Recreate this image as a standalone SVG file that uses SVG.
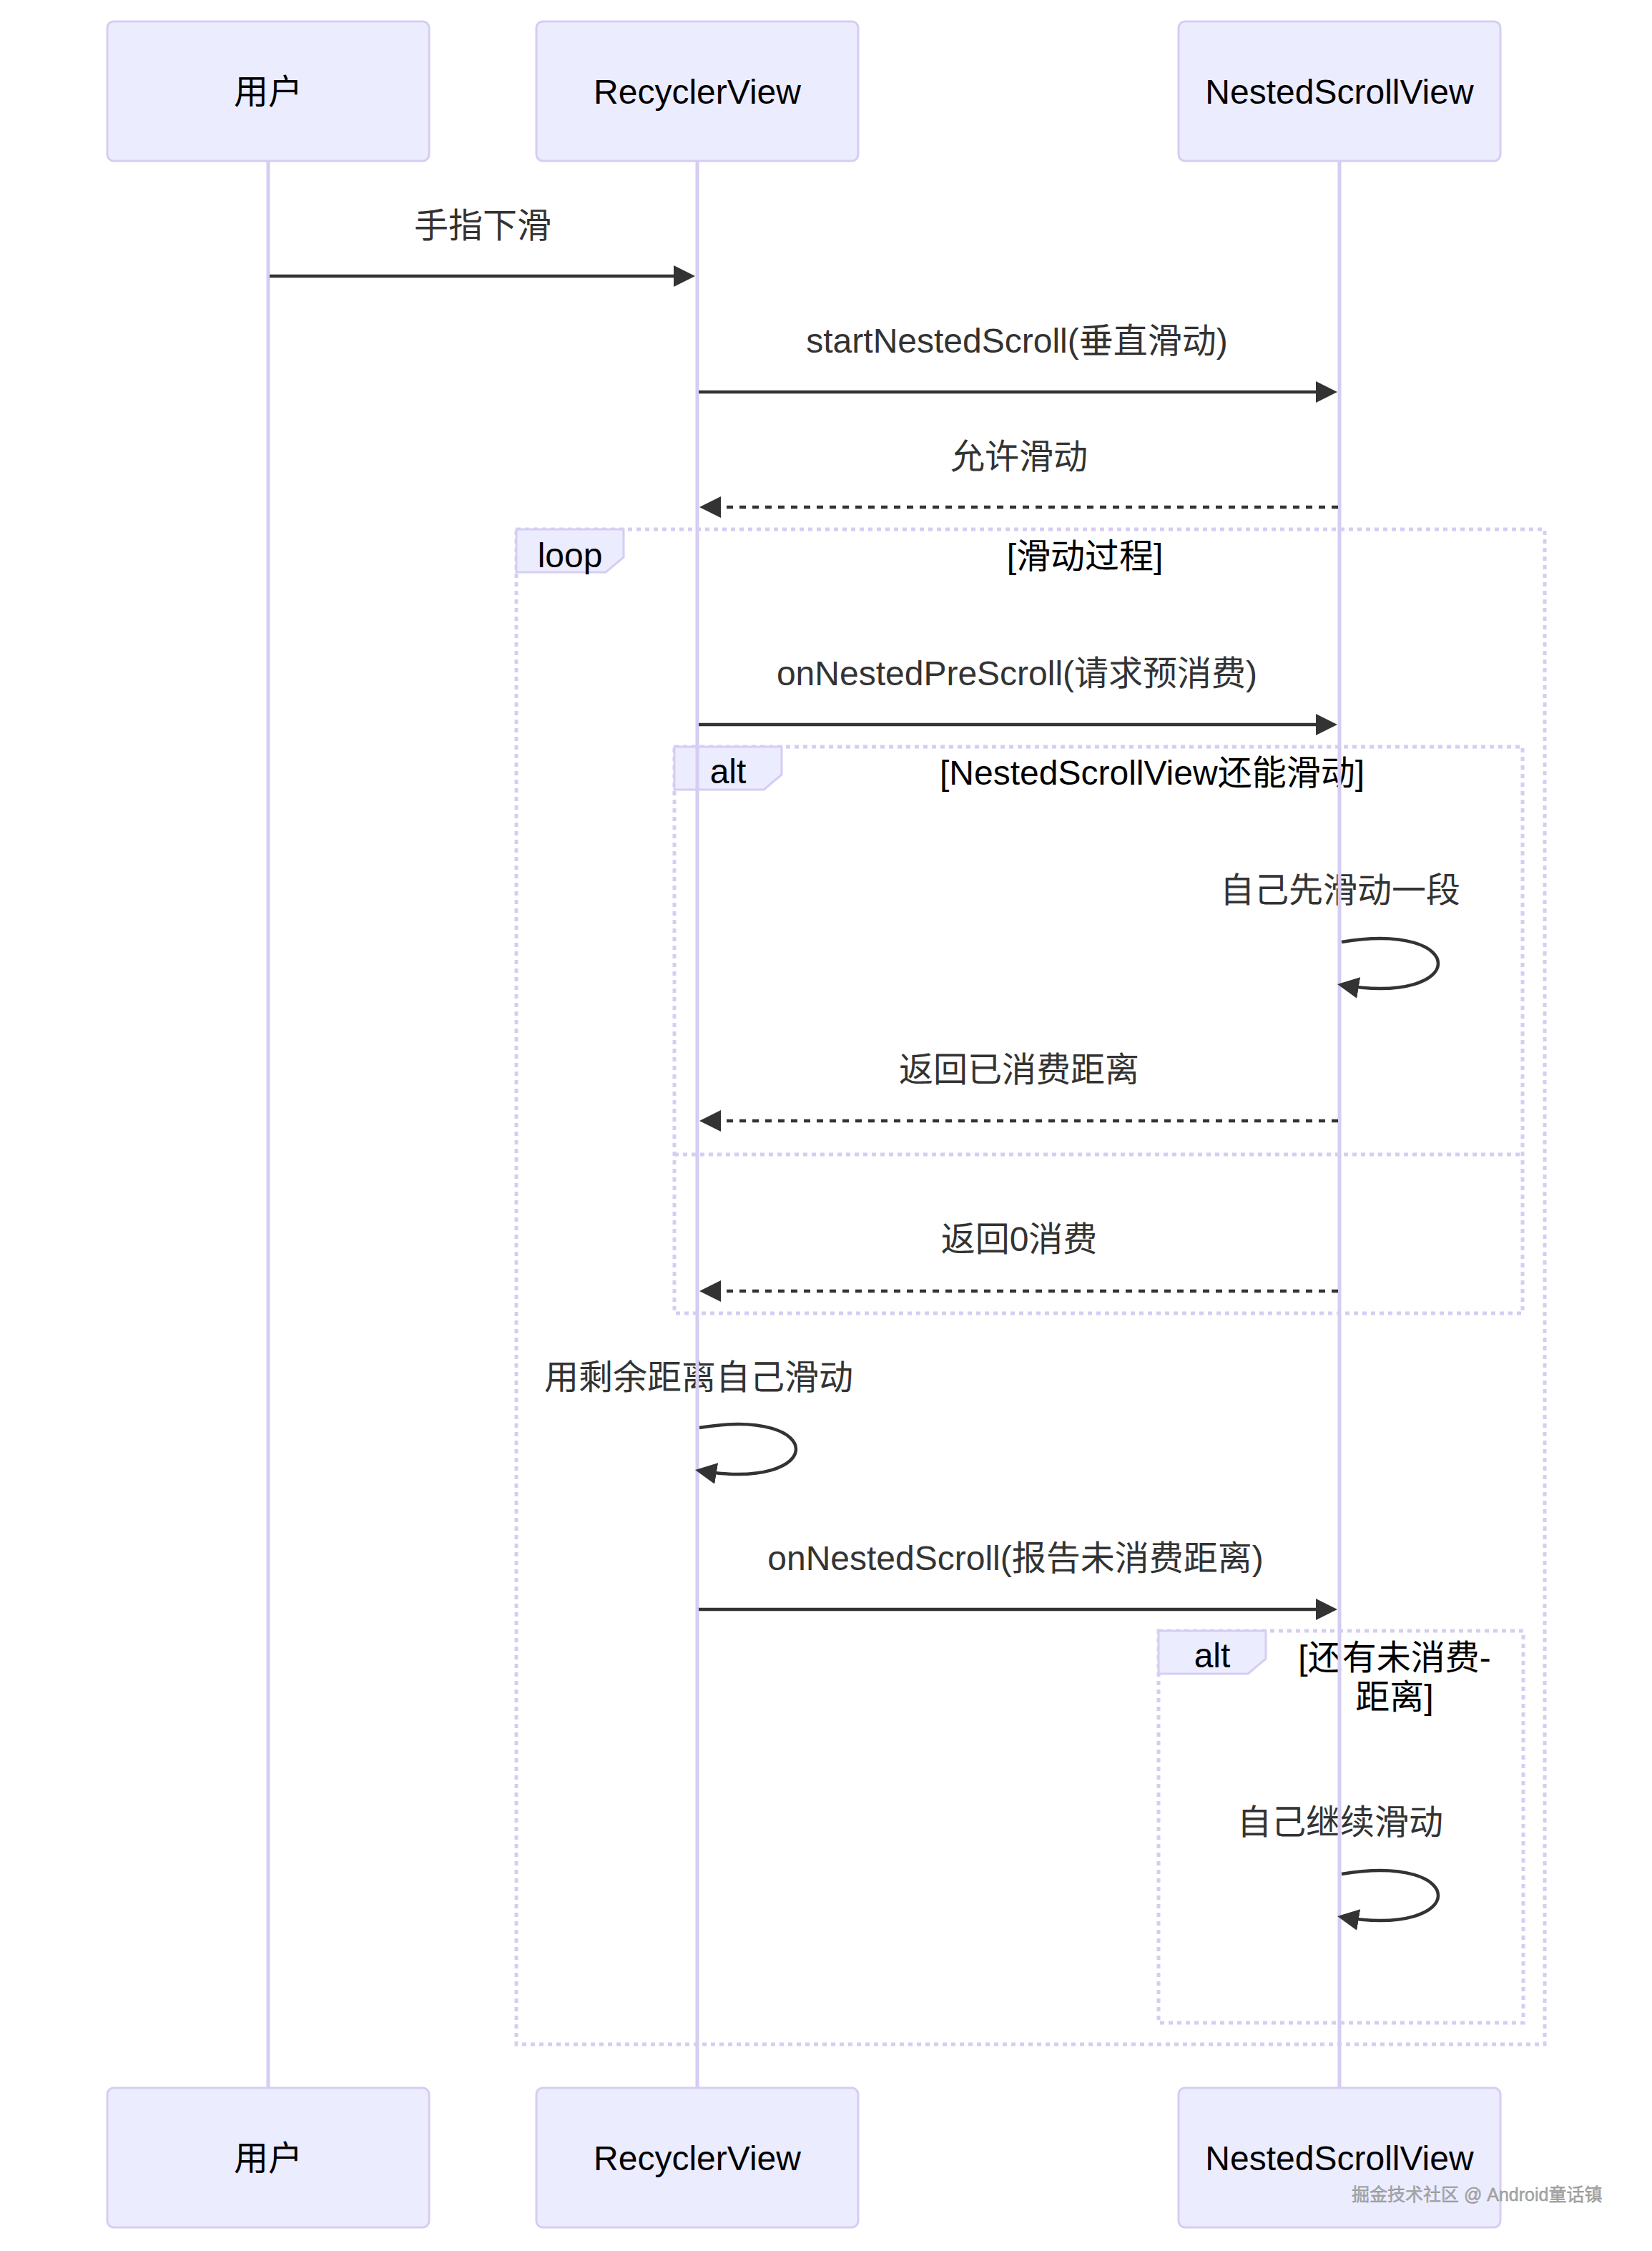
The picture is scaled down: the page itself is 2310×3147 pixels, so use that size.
<svg xmlns="http://www.w3.org/2000/svg" width="2310" height="3147" viewBox="0 0 2310 3147">
<style>
text{font-family:'Liberation Sans','Noto Sans CJK SC',sans-serif;font-size:48px}
.actor{fill:#ECECFF;stroke:#D6CDF2;stroke-width:3}
.alabel{fill:#000;text-anchor:middle}
.life{stroke:#D6CDF2;stroke-width:5}
.msg{fill:#333;text-anchor:middle}
.line{stroke:#333;stroke-width:4.5;fill:none}
.dash{stroke-dasharray:9,9}
.frame{fill:none;stroke:#D6CDF2;stroke-width:5;stroke-dasharray:6,6}
.lbox{fill:#ECECFF;stroke:#D6CDF2;stroke-width:3}
.ltext{fill:#000;text-anchor:middle}
.wm{font-size:25px;fill:#a8a8a8;stroke:#888;stroke-width:0.4}
</style>
<defs>
<marker id="ah" markerUnits="userSpaceOnUse" markerWidth="30" markerHeight="30" viewBox="0 0 30 30" refX="24" refY="15" orient="auto"><path d="M0,0 L30,15 L0,30 z" fill="#333"/></marker>
</defs>
<rect width="2310" height="3147" fill="#fff"/>

<g id="frames">
<g id="loop1">
<rect class="frame" x="722" y="740" width="1438" height="2118"/>
<polygon class="lbox" points="722,740 872,740 872,779 847,800 722,800"/>
<text class="ltext" x="797" y="793">loop</text>
<text class="ltext" x="1517" y="794">[滑动过程]</text>
</g>
<g id="alt1">
<rect class="frame" x="943" y="1044" width="1186" height="792"/>
<line class="frame" x1="943" y1="1614" x2="2129" y2="1614"/>
<polygon class="lbox" points="943,1044 1093,1044 1093,1083 1068,1104 943,1104"/>
<text class="ltext" x="1018" y="1095">alt</text>
<text class="ltext" x="1611" y="1097">[NestedScrollView还能滑动]</text>
</g>
<g id="alt2">
<rect class="frame" x="1620" y="2280" width="510" height="548"/>
<polygon class="lbox" points="1620,2280 1770,2280 1770,2319 1745,2340 1620,2340"/>
<text class="ltext" x="1695" y="2331">alt</text>
<text class="ltext" x="1950" y="2334">[还有未消费-</text>
<text class="ltext" x="1950" y="2389">距离]</text>
</g>
</g>

<g id="labels">
<text class="msg" x="675" y="332">手指下滑</text>
<text class="msg" x="1422" y="493">startNestedScroll(垂直滑动)</text>
<text class="msg" x="1425" y="655">允许滑动</text>
<text class="msg" x="1422" y="958">onNestedPreScroll(请求预消费)</text>
<text class="msg" x="1874" y="1261">自己先滑动一段</text>
<text class="msg" x="1425" y="1512">返回已消费距离</text>
<text class="msg" x="1425" y="1749">返回0消费</text>
<text class="msg" x="977" y="1942">用剩余距离自己滑动</text>
<text class="msg" x="1420" y="2195">onNestedScroll(报告未消费距离)</text>
<text class="msg" x="1874" y="2564">自己继续滑动</text>
</g>

<g id="lifelines">
<line class="life" x1="375" y1="225" x2="375" y2="2918"/>
<line class="life" x1="975" y1="225" x2="975" y2="2918"/>
<line class="life" x1="1873" y1="225" x2="1873" y2="2918"/>
</g>

<g id="actor-user">
<rect class="actor" x="150" y="30" width="450" height="195" rx="9"/>
<text class="alabel" x="375" y="145">用户</text>
<rect class="actor" x="150" y="2919" width="450" height="195" rx="9"/>
<text class="alabel" x="375" y="3034">用户</text>
</g>
<g id="actor-recyclerview">
<rect class="actor" x="750" y="30" width="450" height="195" rx="9"/>
<text class="alabel" x="975" y="145">RecyclerView</text>
<rect class="actor" x="750" y="2919" width="450" height="195" rx="9"/>
<text class="alabel" x="975" y="3034">RecyclerView</text>
</g>
<g id="actor-nestedscrollview">
<rect class="actor" x="1648" y="30" width="450" height="195" rx="9"/>
<text class="alabel" x="1873" y="145">NestedScrollView</text>
<rect class="actor" x="1648" y="2919" width="450" height="195" rx="9"/>
<text class="alabel" x="1873" y="3034">NestedScrollView</text>
</g>

<g id="connectors">
<line class="line" x1="377" y1="386" x2="966" y2="386" marker-end="url(#ah)"/>
<line class="line" x1="977" y1="548" x2="1864" y2="548" marker-end="url(#ah)"/>
<line class="line dash" x1="1871" y1="709" x2="984" y2="709" marker-end="url(#ah)"/>
<line class="line" x1="977" y1="1013" x2="1864" y2="1013" marker-end="url(#ah)"/>
<path class="line" d="M1876,1317 C2056,1287 2056,1407 1876,1377" marker-end="url(#ah)"/>
<line class="line dash" x1="1871" y1="1567" x2="984" y2="1567" marker-end="url(#ah)"/>
<line class="line dash" x1="1871" y1="1805" x2="984" y2="1805" marker-end="url(#ah)"/>
<path class="line" d="M978,1996 C1158,1966 1158,2086 978,2056" marker-end="url(#ah)"/>
<line class="line" x1="977" y1="2250" x2="1864" y2="2250" marker-end="url(#ah)"/>
<path class="line" d="M1876,2620 C2056,2590 2056,2710 1876,2680" marker-end="url(#ah)"/>
</g>

<text class="wm" x="1890" y="3077">掘金技术社区 @ Android童话镇</text>
</svg>
